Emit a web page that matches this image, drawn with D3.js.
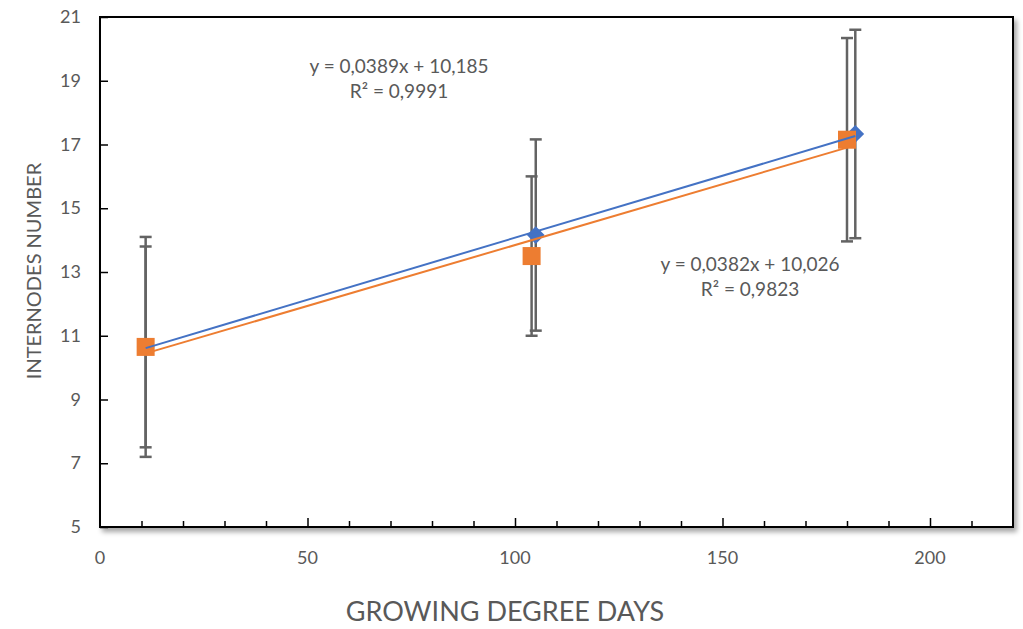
<!DOCTYPE html>
<html><head><meta charset="utf-8">
<script src="https://cdn.jsdelivr.net/npm/d3@7"></script>
<style>body{margin:0;background:#fff}svg{display:block}text{font-family:Lato,"Open Sans",sans-serif;fill:#595959}</style>
</head><body><svg id="c" width="1023" height="629"></svg>
<script>
// Data
const blueX = [11, 105, 182];
const blueY = [10.65, 14.16, 17.33];
const blueErr = [3.45, 3.0, 3.27];
const orangeX = [11, 104, 180];
const orangeY = [10.65, 13.5, 17.15];
const orangeErr = [3.15, 2.5, 3.19];
const blueFit = {slope: 0.0389, intercept: 10.185, eq: "y = 0,0389x + 10,185", r2: "R² = 0,9991"};
const orangeFit = {slope: 0.0382, intercept: 10.026, eq: "y = 0,0382x + 10,026", r2: "R² = 0,9823"};
const xTicksMajor = [0, 50, 100, 150, 200];
const yTicks = [5, 7, 9, 11, 13, 15, 17, 19, 21];
const xTitle = "GROWING DEGREE DAYS";
const yTitle = "INTERNODES NUMBER";

const svg = d3.select("#c");
const L = 100, R = 1013, T = 17, B = 527;
const x = d3.scaleLinear().domain([0, 220]).range([L, R]);
const y = d3.scaleLinear().domain([5, 21]).range([B, T]);

const defs = svg.append("defs");
const f = defs.append("filter").attr("id", "sh").attr("x", "-5%").attr("y", "-5%").attr("width", "110%").attr("height", "115%");
f.append("feDropShadow").attr("dx", 3).attr("dy", 4).attr("stdDeviation", 2.5).attr("flood-color", "#000").attr("flood-opacity", 0.35);

svg.append("rect").attr("x", L).attr("y", T).attr("width", R - L).attr("height", B - T)
  .attr("fill", "#fff").attr("stroke", "#000").attr("stroke-width", 2).attr("filter", "url(#sh)");

// x axis ticks (inside, pointing up)
const xAxis = d3.axisBottom(x).tickValues(d3.range(10, 220, 10)).tickSize(-6).tickFormat("");
const gx = svg.append("g").attr("transform", `translate(0,${B})`).call(xAxis);
gx.select(".domain").remove();
gx.selectAll(".tick line").attr("stroke", "#000").attr("stroke-width", 1.5)
  .attr("y2", d => xTicksMajor.includes(d) ? -9 : -6);
svg.append("g").selectAll("text").data(xTicksMajor).join("text")
  .attr("x", d => x(d)).attr("y", 564).attr("text-anchor", "middle").attr("font-size", 18).text(d => d);

// y axis ticks (inside, pointing right)
const yAxis = d3.axisLeft(y).tickValues(yTicks).tickSize(-8).tickFormat("");
const gy = svg.append("g").attr("transform", `translate(${L},0)`).call(yAxis);
gy.select(".domain").remove();
gy.selectAll(".tick line").attr("stroke", "#000").attr("stroke-width", 1.5);
svg.append("g").selectAll("text").data(yTicks).join("text")
  .attr("x", 81).attr("y", d => y(d) + 6).attr("text-anchor", "end").attr("font-size", 18).text(d => d);

// titles
svg.append("text").attr("x", 505).attr("y", 621).attr("text-anchor", "middle").attr("font-size", 27).text(xTitle);
svg.append("text").attr("transform", "translate(41,271) rotate(-90)").attr("text-anchor", "middle").attr("font-size", 20).text(yTitle);

// error bars
function errBars(xs, ys, es) {
  const g = svg.append("g").attr("stroke", "#636363").attr("stroke-width", 2.5);
  xs.forEach((xv, i) => {
    const cx = x(xv), y1 = y(ys[i] + es[i]), y2 = y(ys[i] - es[i]);
    g.append("line").attr("x1", cx).attr("x2", cx).attr("y1", y1).attr("y2", y2);
    g.append("line").attr("x1", cx - 6).attr("x2", cx + 6).attr("y1", y1).attr("y2", y1);
    g.append("line").attr("x1", cx - 6).attr("x2", cx + 6).attr("y1", y2).attr("y2", y2);
  });
}
errBars(blueX, blueY, blueErr);
errBars(orangeX, orangeY, orangeErr);

// markers
svg.append("g").selectAll("path").data(blueX).join("path")
  .attr("d", d3.symbol(d3.symbolDiamond2, 200)())
  .attr("transform", (d, i) => `translate(${x(d)},${y(blueY[i])})`).attr("fill", "#4472C4");
svg.append("g").selectAll("rect").data(orangeX).join("rect")
  .attr("x", (d) => x(d) - 9).attr("y", (d, i) => y(orangeY[i]) - 9).attr("width", 18).attr("height", 18)
  .attr("fill", "#ED7D31");

// trend lines
function trend(xs, fit, color) {
  const ext = d3.extent(xs);
  svg.append("line").attr("x1", x(ext[0])).attr("x2", x(ext[1]))
    .attr("y1", y(fit.slope * ext[0] + fit.intercept)).attr("y2", y(fit.slope * ext[1] + fit.intercept))
    .attr("stroke", color).attr("stroke-width", 2);
}
trend(blueX, blueFit, "#4472C4");
trend(orangeX, orangeFit, "#ED7D31");

// equations
function label(cx, cy, fit) {
  svg.append("text").attr("x", cx).attr("y", cy).attr("text-anchor", "middle").attr("font-size", 19).text(fit.eq);
  svg.append("text").attr("x", cx).attr("y", cy + 25).attr("text-anchor", "middle").attr("font-size", 19).text(fit.r2);
}
label(399, 73, blueFit);
label(750, 271, orangeFit);
</script></body></html>
